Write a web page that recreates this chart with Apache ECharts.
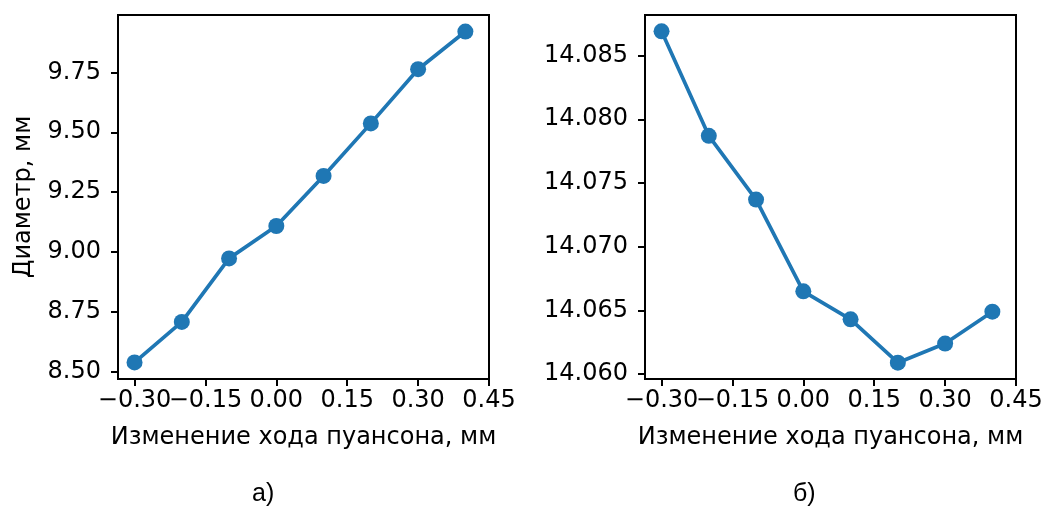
<!DOCTYPE html>
<html><head><meta charset="utf-8">
<script src="https://cdn.jsdelivr.net/npm/echarts@6/dist/echarts.min.js"></script>
<style>html,body{margin:0;padding:0;background:#fff}#c{width:1046px;height:510px}</style>
</head><body><div id="c"></div>
<script>
const strokeChange = [-0.3, -0.2, -0.1, 0.0, 0.1, 0.2, 0.3, 0.4];
const diameterA = [8.540, 8.709, 8.974, 9.109, 9.318, 9.537, 9.763, 9.920];
const diameterB = [14.0869, 14.0787, 14.0737, 14.0665, 14.0643, 14.0609, 14.0624, 14.0649];
const xTicks = [-0.30, -0.15, 0.00, 0.15, 0.30, 0.45];
const yTicksA = [8.50, 8.75, 9.00, 9.25, 9.50, 9.75];
const yTicksB = [14.060, 14.065, 14.070, 14.075, 14.080, 14.085];
const xName = 'Изменение хода пуансона, мм';
const yNameA = 'Диаметр, мм';
const panelLabels = ['а)', 'б)'];

const FONT = 'DejaVu Sans';
const FS = 24;
const SPINE = 2;
const fmt = (v, d) => { const s = Math.abs(v).toFixed(d); return (v < -1e-12 ? '\u2212' : '') + s; };
// split tick labels into two interleaved sets so neighbouring labels never collide
const xTicksEven = xTicks.filter((_, i) => i % 2 === 0);
const xTicksOdd = xTicks.filter((_, i) => i % 2 === 1);

function xAxis(gi, ticks, withName) {
  return {
    type: 'value', gridIndex: gi, min: -0.335, max: 0.45, position: 'bottom', offset: 0,
    name: withName ? xName : '', nameLocation: 'middle', nameGap: 47,
    nameTextStyle: { fontFamily: FONT, fontSize: FS, color: '#000' },
    axisLine: { show: withName, onZero: false, lineStyle: { color: '#000', width: SPINE } },
    axisTick: { show: true, length: 7, lineStyle: { color: '#000', width: SPINE }, customValues: ticks },
    axisLabel: { fontFamily: FONT, fontSize: FS, color: '#000', margin: 10, hideOverlap: false,
      showMinLabel: true, showMaxLabel: true,
      customValues: ticks, formatter: v => fmt(v, 2) },
    splitLine: { show: false }
  };
}
function yAxis(gi, min, max, ticks, dec, name) {
  return {
    type: 'value', gridIndex: gi, min: min, max: max,
    name: name || '', nameLocation: 'middle', nameGap: 82, nameRotate: 90,
    nameTextStyle: { fontFamily: FONT, fontSize: FS, color: '#000' },
    axisLine: { show: true, onZero: false, lineStyle: { color: '#000', width: SPINE } },
    axisTick: { show: true, length: 7, lineStyle: { color: '#000', width: SPINE }, customValues: ticks },
    axisLabel: { fontFamily: FONT, fontSize: FS, color: '#000', margin: 17, hideOverlap: false,
      showMinLabel: true, showMaxLabel: true,
      customValues: ticks, formatter: v => fmt(v, dec) },
    splitLine: { show: false }
  };
}
function series(xi, yi, ys) {
  return {
    type: 'line', xAxisIndex: xi, yAxisIndex: yi,
    data: strokeChange.map((x, i) => [x, ys[i]]),
    symbol: 'circle', symbolSize: 16, showSymbol: true,
    lineStyle: { color: '#1f77b4', width: 3.7 },
    itemStyle: { color: '#1f77b4', borderWidth: 0 },
    emphasis: { disabled: true }, z: 3
  };
}
const chart = echarts.init(document.getElementById('c'), null, { renderer: 'canvas' });
chart.setOption({
  animation: false,
  backgroundColor: '#fff',
  grid: [
    { left: 118, top: 15, width: 371, height: 364, show: true, borderColor: '#000', borderWidth: SPINE, backgroundColor: 'transparent', containLabel: false, outerBoundsMode: 'none' },
    { left: 645, top: 15, width: 371, height: 364, show: true, borderColor: '#000', borderWidth: SPINE, backgroundColor: 'transparent', containLabel: false, outerBoundsMode: 'none' }
  ],
  xAxis: [xAxis(0, xTicksEven, true), xAxis(0, xTicksOdd, false), xAxis(1, xTicksEven, true), xAxis(1, xTicksOdd, false)],
  yAxis: [
    yAxis(0, 8.471, 9.989, yTicksA, 2, yNameA),
    yAxis(1, 14.05962, 14.08818, yTicksB, 3, '')
  ],
  series: [series(0, 0, diameterA), series(2, 1, diameterB)],
  graphic: [
    { type: 'text', left: 252, top: 482, style: { text: panelLabels[0], fontFamily: 'Liberation Sans', fontSize: 25, fill: '#000' } },
    { type: 'text', left: 793, top: 482, style: { text: panelLabels[1], fontFamily: 'Liberation Sans', fontSize: 25, fill: '#000' } }
  ]
});
</script></body></html>
